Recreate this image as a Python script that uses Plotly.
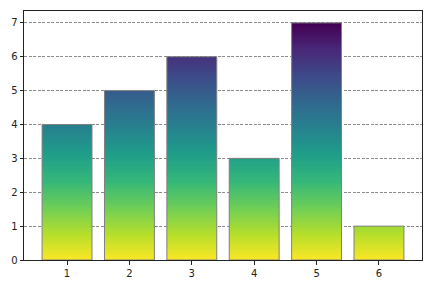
import numpy as np
import plotly.graph_objects as go

categories = [1, 2, 3, 4, 5, 6]
values = [4, 5, 6, 3, 7, 1]
ytick_vals = [0, 1, 2, 3, 4, 5, 6, 7]

# gradient segments (each bar split into thin slices coloured by height)
step = 0.05
seg_x, seg_base, seg_h, seg_c = [], [], [], []
for c, v in zip(categories, values):
    n = int(round(v / step))
    for k in range(n):
        seg_x.append(c)
        seg_base.append(k * step)
        seg_h.append(step)
        seg_c.append((k + 0.5) * step)

fig = go.Figure()
fig.add_trace(go.Bar(
    x=seg_x, y=seg_h, base=seg_base, width=0.8,
    marker=dict(color=seg_c, colorscale="Viridis", reversescale=True,
                cmin=0, cmax=max(values), line=dict(width=0)),
    hoverinfo="skip", showlegend=False,
))
fig.add_trace(go.Bar(
    x=categories, y=values, width=0.8,
    marker=dict(color="rgba(0,0,0,0)", line=dict(color="#808080", width=1)),
    showlegend=False,
))

fig.update_layout(
    barmode="overlay",
    width=432, height=288,
    margin=dict(l=24, r=10, t=11, b=28),
    paper_bgcolor="white", plot_bgcolor="white",
    font=dict(family="DejaVu Sans", size=10, color="#222222"),
    xaxis=dict(range=[0.31, 6.69], tickvals=categories, ticktext=[str(c) for c in categories],
               showgrid=False, zeroline=False, showline=True, mirror=True,
               linecolor="#222222", linewidth=1, ticks="outside", ticklen=3.5,
               tickcolor="#222222", tickwidth=0.8),
    yaxis=dict(range=[0, 7.35], tickvals=ytick_vals, showgrid=True, gridcolor="#8a8a8a",
               griddash="3px,1.5px", gridwidth=0.8, zeroline=False, showline=True, mirror=True,
               linecolor="#222222", linewidth=1, ticks="outside", ticklen=3.5,
               tickcolor="#222222", tickwidth=0.8),
)

fig.write_html("out.html")
